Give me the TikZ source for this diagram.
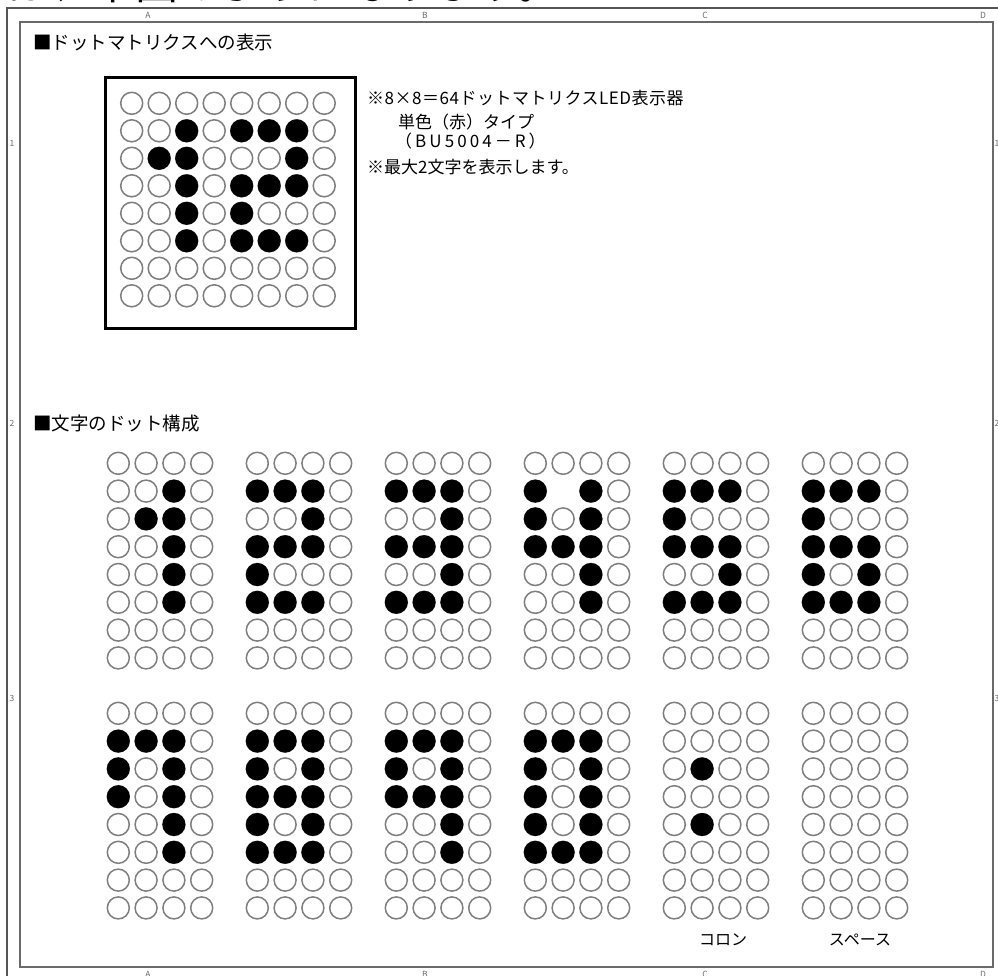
\documentclass[tikz,border=0pt]{standalone}
\usepackage{fontspec}
\newfontfamily\jpfont{Noto Sans CJK JP}
\usepackage{tikz}
\definecolor{FrameGray}{HTML}{6a6a6a}
\definecolor{DotGray}{HTML}{7e7e7e}
\tikzset{
  ledoff/.style={draw=DotGray,line width=1.5pt,fill=white},
  ledon/.style={fill=black},
  frameline/.style={draw=FrameGray,line width=1.8pt},
  note/.style={anchor=west,inner sep=0pt,font=\jpfont\fontsize{17}{17}\selectfont},
  heading/.style={anchor=west,inner sep=0pt,font=\jpfont\fontsize{18.5}{18.5}\selectfont},
  ruler/.style={inner sep=0pt,text=FrameGray,font=\jpfont\fontsize{8.5}{8.5}\selectfont}
}

\begin{document}
\begin{tikzpicture}[x=1pt,y=-1pt]
  \useasboundingbox (0,0) rectangle (998,976);
  \clip (0,0) rectangle (998,976);

  \node[anchor=base west,inner sep=0pt,font=\jpfont\fontsize{43}{43}\selectfont] (lead) at (6,0) {は、下図のようになります。};

  \draw[draw=FrameGray!80!black,line width=1.4pt] (7,990) -- (7,8) -- (1010,8);
  \draw[frameline] (20,22) rectangle (993,967);
  \foreach \x/\name in {148/A,425/B,705/C,983/D} {
    \node[ruler] (top\name) at (\x,15) {\name};
    \node[ruler] (bot\name) at (\x,974) {\name};
  }
  \foreach \y/\name in {143/1,423/2,698/3} {
    \node[ruler] (left\name) at (12,\y) {\name};
    \node[ruler] (right\name) at (997,\y) {\name};
  }

  \node[heading] (display) at (33,42) {■ドットマトリクスへの表示};
  \draw[line width=3pt] (105,78) rectangle (355,328);
  \foreach \i in {0,...,7}
    \foreach \j in {0,...,7}
      \draw[ledoff] (131.7+27.5*\i,103.3+27.5*\j) circle[radius=11pt];
  \foreach \i/\j in {2/1,4/1,5/1,6/1,1/2,2/2,6/2,2/3,4/3,5/3,6/3,2/4,4/4,2/5,4/5,5/5,6/5}
    \fill[ledon] (131.7+27.5*\i,103.3+27.5*\j) circle[radius=11.5pt];

  \node[note] (spec) at (367,98) {\addfontfeatures{LetterSpace=3}※8×8＝64ドットマトリクスLED表示器};
  \node[note] (color) at (398,122) {単色（赤）タイプ};
  \node[note] (part) at (395,141) {\addfontfeatures{LetterSpace=18}（BU5004－R）};
  \node[note] (maxchars) at (367,167) {※最大2文字を表示します。};

  \node[heading] (dotform) at (33,424) {■文字のドット構成};
  \foreach \gx in {118.3,257.3,396.3,535.3,674.3,813.3}
    \foreach \gy in {463.3,713.3}
      \foreach \i in {0,...,3}
        \foreach \j in {0,...,7}
          \draw[ledoff] (\gx+27.8*\i,\gy+27.8*\j) circle[radius=11pt];
  \fill[white] (535.3+27.8,463.3+27.8) circle[radius=13pt];

  \foreach \gx/\gy/\lit in {
    118.3/463.3/{2/1,1/2,2/2,2/3,2/4,2/5},
    257.3/463.3/{0/1,1/1,2/1,2/2,0/3,1/3,2/3,0/4,0/5,1/5,2/5},
    396.3/463.3/{0/1,1/1,2/1,2/2,0/3,1/3,2/3,2/4,0/5,1/5,2/5},
    535.3/463.3/{0/1,2/1,0/2,2/2,0/3,1/3,2/3,2/4,2/5},
    674.3/463.3/{0/1,1/1,2/1,0/2,0/3,1/3,2/3,2/4,0/5,1/5,2/5},
    813.3/463.3/{0/1,1/1,2/1,0/2,0/3,1/3,2/3,0/4,2/4,0/5,1/5,2/5},
    118.3/713.3/{0/1,1/1,2/1,0/2,2/2,0/3,2/3,2/4,2/5},
    257.3/713.3/{0/1,1/1,2/1,0/2,2/2,0/3,1/3,2/3,0/4,2/4,0/5,1/5,2/5},
    396.3/713.3/{0/1,1/1,2/1,0/2,2/2,0/3,1/3,2/3,2/4,2/5},
    535.3/713.3/{0/1,1/1,2/1,0/2,2/2,0/3,2/3,0/4,2/4,0/5,1/5,2/5},
    674.3/713.3/{1/2,1/4}}
    \foreach \i/\j in \lit
      \fill[ledon] (\gx+27.8*\i,\gy+27.8*\j) circle[radius=11.5pt];

  \node[note,anchor=center,font=\jpfont\fontsize{16}{16}\selectfont] (colon) at (723,940) {コロン};
  \node[note,anchor=center,font=\jpfont\fontsize{16}{16}\selectfont] (space) at (860,940) {スペース};
\end{tikzpicture}
\end{document}
